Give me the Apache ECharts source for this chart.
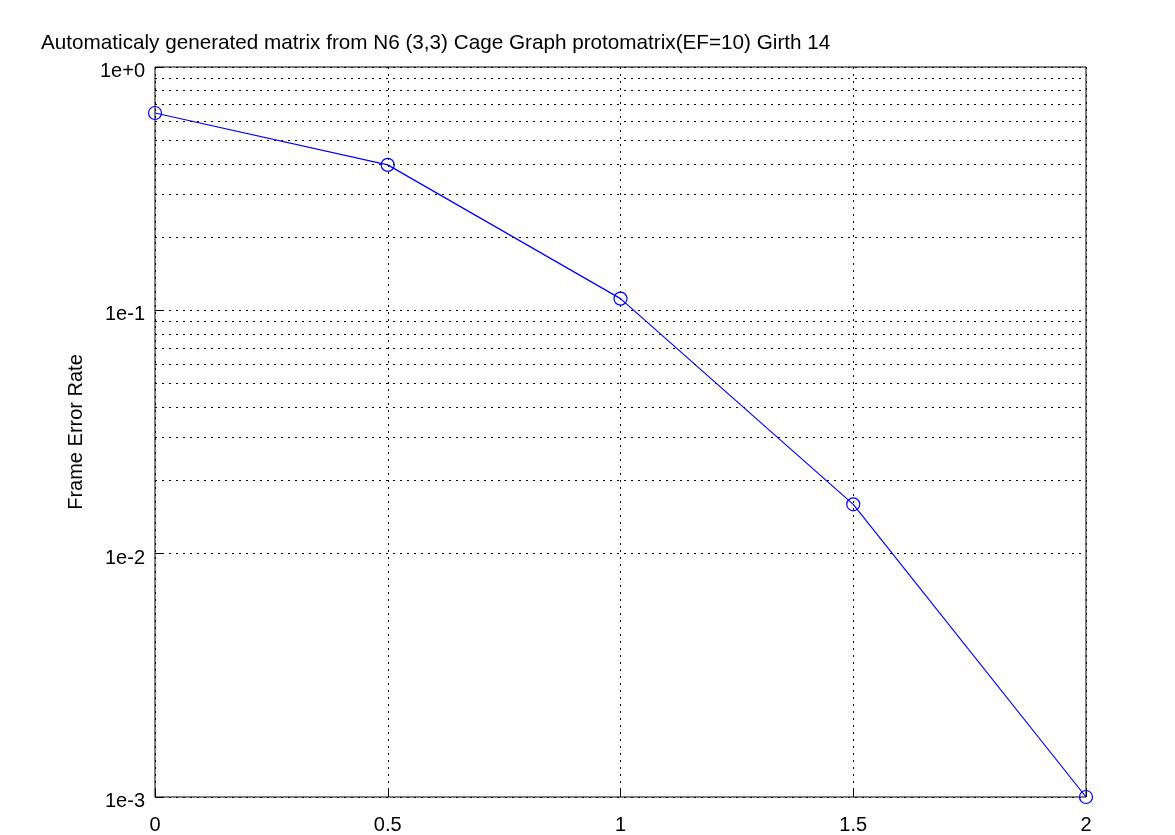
<!DOCTYPE html>
<html><head><meta charset="utf-8">
<script src="https://cdn.jsdelivr.net/npm/echarts@6/dist/echarts.min.js"></script>
<style>html,body{margin:0;padding:0;background:#fff}#c{width:1175px;height:835px}</style>
</head><body><div id="c"></div>
<script>
const titleText = 'Automaticaly generated matrix from N6 (3,3) Cage Graph protomatrix(EF=10) Girth 14';
const yName = 'Frame Error Rate';
const xValues = [0, 0.5, 1, 1.5, 2];
const ferValues = [0.647, 0.396, 0.1117, 0.01595, 0.001];
const xTickLabels = {0:'0', 0.5:'0.5', 1:'1', 1.5:'1.5', 2:'2'};
const yTickLabels = {'1':'1e+0', '0.1':'1e-1', '0.01':'1e-2', '0.001':'1e-3'};
const minorGridValues = [];
[0.001, 0.01, 0.1].forEach(d => { for (let k = 2; k <= 9; k++) minorGridValues.push(+(d * k).toPrecision(3)); });

const font = 'Liberation Sans, Arial, sans-serif';
const dotted = {color:'#000', width:1, type:[2,5]};
const chart = echarts.init(document.getElementById('c'), null, {renderer:'canvas'});
chart.setOption({
  animation:false,
  title:{text:titleText, left:36, top:28, textStyle:{fontFamily:font, fontSize:20.7, fontWeight:'normal', color:'#000'}},
  grid:{left:155, right:89, top:67, bottom:37, show:true, borderColor:'#000', borderWidth:1, backgroundColor:'transparent'},
  xAxis:{type:'value', min:0, max:2, interval:0.5,
    axisLine:{show:false},
    axisTick:{show:true, inside:true, length:8, lineStyle:{color:'#000'}},
    axisLabel:{fontFamily:font, fontSize:20, color:'#000', margin:18, formatter:v => xTickLabels[v] !== undefined ? xTickLabels[v] : String(v)},
    splitLine:{show:true, lineStyle:dotted}},
  yAxis:{type:'log', logBase:10, min:0.001, max:1,
    name:yName, nameLocation:'middle', nameGap:69, nameRotate:90,
    nameTextStyle:{fontFamily:font, fontSize:20, color:'#000'},
    axisLine:{show:false},
    axisTick:{show:true, inside:true, length:8, lineStyle:{color:'#000'}},
    axisLabel:{fontFamily:font, fontSize:20, color:'#000', margin:10,
      formatter:v => { const k = String(+v.toPrecision(3)); return yTickLabels[k] ? '{a|' + yTickLabels[k] + '}' : ''; },
      rich:{a:{fontFamily:font, fontSize:20, color:'#000', padding:[9,0,0,0]}}},
    splitLine:{show:true, lineStyle:dotted}},
  series:[{
    type:'line', data:xValues.map((x,i)=>[x, ferValues[i]]),
    symbol:'circle', symbolSize:13, showAllSymbol:true,
    lineStyle:{color:'#0000ff', width:1.2},
    itemStyle:{color:'rgba(0,0,0,0)', borderColor:'#0000ff', borderWidth:1.2},
    markLine:{silent:true, symbol:['none','none'], label:{show:false},
      lineStyle:dotted,
      data:minorGridValues.map(v => ({yAxis:v}))}
  }]
});
</script></body></html>
